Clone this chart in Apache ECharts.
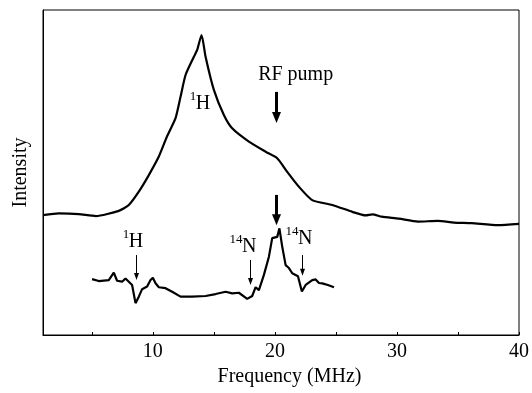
<!DOCTYPE html>
<html><head><meta charset="utf-8">
<script src="https://cdn.jsdelivr.net/npm/echarts@6.0.0/dist/echarts.min.js"></script>
<style>html,body{margin:0;padding:0;background:#fff}#c{width:532px;height:393px}</style>
</head><body><div id="c"></div>
<script>
// ---- data (Frequency in MHz, intensity in arbitrary units 0-100) ----
const upperFreq = [1.0, 2.30, 3.93, 5.33, 7.21, 8.03, 8.85, 9.67, 10.49, 11.15, 11.86, 12.27, 12.68, 13.36, 13.63, 13.99,
  14.32, 15.0, 15.82, 16.50, 17.87, 19.24, 20.19, 21.01, 21.97, 23.06, 24.70, 26.34, 27.43, 28.0, 28.75, 30.16, 31.72, 33.36, 34.67, 36.12, 38.28, 40.0];
const upperInt = [36.9, 37.4, 37.2, 36.6, 38.2, 40.0, 44.1, 49.2, 54.9, 61.0, 66.7, 73.3, 80.0, 85.6, 87.7, 92.3,
  85.6, 75.4, 67.7, 63.6, 59.5, 56.4, 54.4, 50.2, 45.6, 41.5, 40.0, 37.9, 36.8, 37.1, 36.4, 35.8, 34.9, 35.1, 34.6, 34.4, 33.8, 34.2];

const lowerFreq = [5.02, 5.57, 6.39, 6.80, 7.07, 7.48, 7.76, 8.03, 8.30, 8.58, 8.85, 9.12, 9.53, 9.81, 10.0, 10.22, 10.49,
  11.04, 11.58, 12.27, 13.22, 14.32, 15.14, 15.96, 16.50, 17.05, 17.73, 18.14, 18.42, 18.69, 19.10, 19.51, 19.78, 20.19,
  20.37, 20.60, 20.88, 21.15, 21.42, 21.89, 22.21, 22.52, 23.06, 23.34, 23.61, 23.88, 24.34, 24.84];
const lowerInt = [17.2, 16.6, 16.9, 19.2, 16.7, 16.4, 17.4, 16.4, 15.4, 9.8, 11.8, 14.1, 14.9, 16.9, 17.6, 15.9, 14.7,
  14.4, 13.3, 11.8, 11.8, 12.0, 12.6, 13.3, 12.8, 13.0, 11.1, 12.0, 14.7, 13.8, 18.5, 24.1, 29.8, 30.2,
  32.8, 27.2, 21.5, 20.6, 19.0, 18.1, 13.4, 15.4, 16.9, 17.1, 16.0, 15.9, 15.4, 14.7];

const xTickValues = [5, 10, 15, 20, 25, 30, 35, 40];
const xLabelValues = [10, 20, 30, 40];

// annotation texts (main letter left edge & vertical middle, in data units)
const labelMain = ['H', 'H', 'N', 'N'];
const labelSup = ['1', '1', '14', '14'];
const labelFreq = [13.52, 8.03, 17.30, 21.89];
const labelInt = [71.2, 28.6, 27.2, 29.7];
// arrows: x, from, to (data units), thick?
const arrowFreq = [20.08, 20.1, 8.61, 17.95, 22.19];
const arrowFrom = [74.8, 43.1, 24.6, 23.1, 24.6];
const arrowTo = [65.2, 33.8, 16.9, 15.4, 18.2];
const arrowThick = [true, true, false, false, false];
const pumpText = 'RF pump';
const pumpPos = [21.7, 80.0];

const FONT = '"Liberation Serif", "Times New Roman", serif';
const zip = (a, b) => a.map((v, i) => [v, b[i]]);

const chart = echarts.init(document.getElementById('c'), null, {renderer: 'canvas'});
const option = {
  animation: false,
  backgroundColor: '#fff',
  grid: {left: 43, right: 12, top: 10, bottom: 58, show: true, borderColor: '#000', borderWidth: 1},
  xAxis: {
    type: 'value', min: 1, max: 40,
    name: 'Frequency (MHz)', nameLocation: 'middle', nameGap: 24,
    nameTextStyle: {fontFamily: FONT, fontSize: 20, color: '#000', padding: [0, 0, 0, 17]},
    axisLine: {show: true, lineStyle: {color: '#000', width: 1}},
    axisTick: {show: true, inside: true, length: 3, customValues: xTickValues, lineStyle: {color: '#000'}},
    axisLabel: {show: true, customValues: xLabelValues, fontFamily: FONT, fontSize: 20, color: '#000', margin: 7},
    splitLine: {show: false}
  },
  yAxis: {
    type: 'value', min: 0, max: 100,
    name: 'Intensity', nameLocation: 'middle', nameGap: 12,
    nameTextStyle: {fontFamily: FONT, fontSize: 20, color: '#000'},
    axisLine: {show: true, lineStyle: {color: '#000', width: 1}},
    axisTick: {show: false}, axisLabel: {show: false}, splitLine: {show: false}
  },
  series: [
    {type: 'line', data: zip(upperFreq, upperInt), showSymbol: false, smooth: 0.2, lineStyle: {color: '#000', width: 2.2}, silent: true},
    {type: 'line', data: zip(lowerFreq, lowerInt), showSymbol: false, lineStyle: {color: '#000', width: 2.2}, silent: true}
  ]
};
chart.setOption(option);

const px = (f, v) => chart.convertToPixel({gridIndex: 0}, [f, v]);
const g = [];
const pp = px(pumpPos[0], pumpPos[1]);
g.push({type: 'text', x: pp[0], y: pp[1], style: {text: pumpText, font: '20px ' + FONT, fill: '#000', textAlign: 'center', textVerticalAlign: 'middle'}});
labelMain.forEach((m, i) => {
  const p = px(labelFreq[i], labelInt[i]);
  g.push({type: 'text', x: p[0], y: p[1], style: {text: m, font: '20px ' + FONT, fill: '#000', textAlign: 'left', textVerticalAlign: 'middle'}});
  g.push({type: 'text', x: p[0] + 0.5, y: p[1] - 7, style: {text: labelSup[i], font: '13px ' + FONT, fill: '#000', textAlign: 'right', textVerticalAlign: 'middle'}});
});
arrowFreq.forEach((f, i) => {
  const a = px(f, arrowFrom[i]);
  const b = px(f, arrowTo[i]);
  const x = Math.round(a[0]) + 0.5;
  if (arrowThick[i]) {
    g.push({type: 'line', shape: {x1: x, y1: a[1], x2: x, y2: b[1] - 8}, style: {stroke: '#000', lineWidth: 3}});
    g.push({type: 'polygon', shape: {points: [[x - 4.5, b[1] - 11], [x + 4.5, b[1] - 11], [x, b[1]]]}, style: {fill: '#000'}});
  } else {
    g.push({type: 'line', shape: {x1: x, y1: a[1], x2: x, y2: b[1] - 4}, style: {stroke: '#000', lineWidth: 1}});
    g.push({type: 'polygon', shape: {points: [[x - 2.5, b[1] - 7], [x + 2.5, b[1] - 7], [x, b[1]]]}, style: {fill: '#000'}});
  }
});
chart.setOption({graphic: {elements: g}});
</script>
</body></html>
